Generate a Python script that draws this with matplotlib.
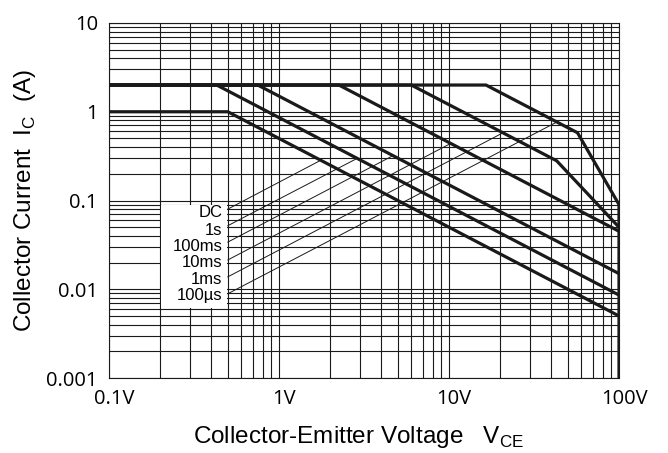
import matplotlib
matplotlib.use("Agg")
import matplotlib.pyplot as plt
import matplotlib.transforms as mtransforms
from matplotlib.patches import Rectangle

plt.rcParams['font.family'] = ['Liberation Sans', 'DejaVu Sans']

# safe operating area curves (V_CE in volts, I_C in amps)
vce_dc = [0.1, 0.5, 100]
ic_dc = [1, 1, 0.005]
vce_1s = [0.1, 0.43, 100]
ic_1s = [2, 2, 0.0086]
vce_100ms = [0.1, 0.75, 100]
ic_100ms = [2, 2, 0.015]
vce_10ms = [0.1, 2.25, 100]
ic_10ms = [2, 2, 0.045]
vce_1ms = [0.1, 6.0, 43, 100]
ic_1ms = [2, 2, 0.28, 0.05]
vce_100us = [0.1, 16.5, 57, 100, 100]
ic_100us = [2, 2, 0.58, 0.09, 0.001]

# curve labels and their leader lines
labels = ['DC', '1s', '100ms', '10ms', '1ms', '100\u00b5s']
label_ic = [0.0725, 0.0455, 0.030, 0.0198, 0.0128, 0.0084]
lead_v0 = 0.5
lead_i0 = [0.080, 0.052, 0.034, 0.0214, 0.0138, 0.0089]
lead_v1 = [1.76, 2.88, 4.68, 10.25, 20.8, 43.1]
lead_i1 = [0.284, 0.298, 0.32, 0.44, 0.58, 0.766]

xticks = [0.1, 1, 10, 100]
xticklabels = ['0.1V', '1V', '10V', '100V']
yticks = [0.001, 0.01, 0.1, 1, 10]
yticklabels = ['0.001', '0.01', '0.1', '1', '10']

fig = plt.figure(figsize=(6.68, 4.53), dpi=100)
ax = fig.add_axes([109 / 668, 1 - 378 / 453, 510 / 668, 355 / 453])

ax.set_xscale('log')
ax.set_yscale('log')
ax.set_xlim(0.1, 100)
ax.set_ylim(0.001, 10)

ax.set_axisbelow(True)
ax.grid(which='both', color='#1a1a1a', lw=0.8)
for s in ax.spines.values():
    s.set_color('#1a1a1a')
    s.set_linewidth(0.8)

# blank patch behind the labels
ax.add_patch(Rectangle((0.203, 0.0062), 0.5 - 0.203 - 0.004, 0.088 - 0.0062,
                       facecolor='white', edgecolor='none', zorder=1))

for v, i in [(vce_dc, ic_dc), (vce_1s, ic_1s), (vce_100ms, ic_100ms),
             (vce_10ms, ic_10ms), (vce_1ms, ic_1ms), (vce_100us, ic_100us)]:
    ax.plot(v, i, color='#1a1a1a', lw=2.3, solid_joinstyle='miter', zorder=3)

for k in range(len(labels)):
    ax.plot([lead_v0, lead_v1[k]], [lead_i0[k], lead_i1[k]],
            color='#1a1a1a', lw=0.7, zorder=2)
    ax.text(0.465, label_ic[k], labels[k], ha='right', va='center',
            fontsize=12, zorder=4)

ax.set_xticks(xticks)
ax.set_xticklabels(xticklabels, family=['Open Sans', 'DejaVu Sans'])
ax.set_yticks(yticks)
ax.set_yticklabels(yticklabels, family=['Open Sans', 'DejaVu Sans'])
ax.tick_params(which='both', length=0)
ax.tick_params(axis='x', labelsize=14.5, pad=8)
ax.tick_params(axis='y', labelsize=14.5, pad=8)

shift = mtransforms.ScaledTranslation(0.05, 0, fig.dpi_scale_trans)
for lab in ax.get_xticklabels():
    lab.set_transform(lab.get_transform() + shift)

ax.set_xlabel(r'Collector-Emitter Voltage   V$_\mathregular{CE}$', fontsize=17.5)
ax.set_ylabel(r'Collector Current  I$_\mathregular{C}$  (A)', fontsize=17.5)
ax.xaxis.set_label_coords(0.49, -0.13)
ax.yaxis.set_label_coords(-0.14, 0.5)

fig.savefig('out.png', dpi=100)
